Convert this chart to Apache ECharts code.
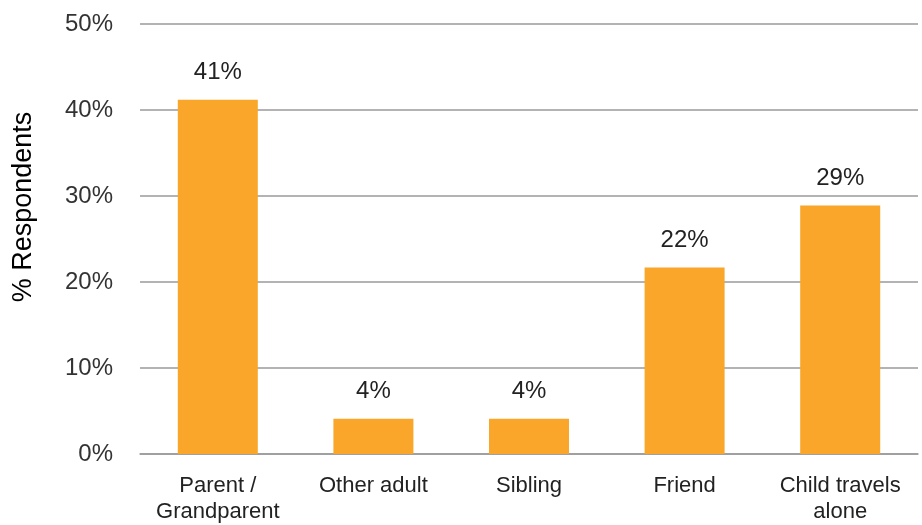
<!DOCTYPE html>
<html>
<head>
<meta charset="utf-8">
<script src="https://cdn.jsdelivr.net/npm/echarts@6/dist/echarts.min.js"></script>
<style>html,body{margin:0;padding:0;background:#fff}#c{width:922px;height:525px}</style>
</head>
<body>
<div id="c"></div>
<script>
const categories = ['Parent /\nGrandparent', 'Other adult', 'Sibling', 'Friend', 'Child travels\nalone'];
const values = [41.2, 4.1, 4.1, 21.7, 28.9];
const labels = ['41%', '4%', '4%', '22%', '29%'];
const yTicks = [0, 10, 20, 30, 40, 50];

const chart = echarts.init(document.getElementById('c'));
const font = '"Liberation Sans", Helvetica, Arial, sans-serif';
chart.setOption({
  animation: false,
  grid: { left: 140, right: 4, top: 24, bottom: 68 },
  xAxis: {
    type: 'category',
    data: categories,
    axisLine: { show: true, lineStyle: { color: '#9a9a9a', width: 1.5 } },
    axisTick: { show: false },
    axisLabel: { interval: 0, hideOverlap: false, color: '#222', fontSize: 22, fontFamily: font, lineHeight: 26, margin: 19 }
  },
  yAxis: {
    type: 'value',
    min: 0, max: 50, interval: 10,
    name: '% Respondents',
    nameLocation: 'middle',
    nameGap: 103,
    nameRotate: 90,
    nameTextStyle: { color: '#000', fontSize: 27, fontFamily: font, padding: [0, 0, 0, 64] },
    axisLine: { show: false },
    axisTick: { show: false },
    axisLabel: {
      color: '#333', fontSize: 24, fontFamily: font, margin: 27,
      formatter: v => yTicks.includes(v) ? v + '%' : ''
    },
    splitLine: { lineStyle: { color: '#9a9a9a', width: 1.5 } }
  },
  series: [{
    type: 'bar',
    data: values,
    barWidth: 80,
    itemStyle: { color: '#F9A62A' },
    label: {
      show: true, position: 'top', distance: 15,
      color: '#222', fontSize: 24, fontFamily: font,
      formatter: p => labels[p.dataIndex]
    }
  }]
});
</script>
</body>
</html>
